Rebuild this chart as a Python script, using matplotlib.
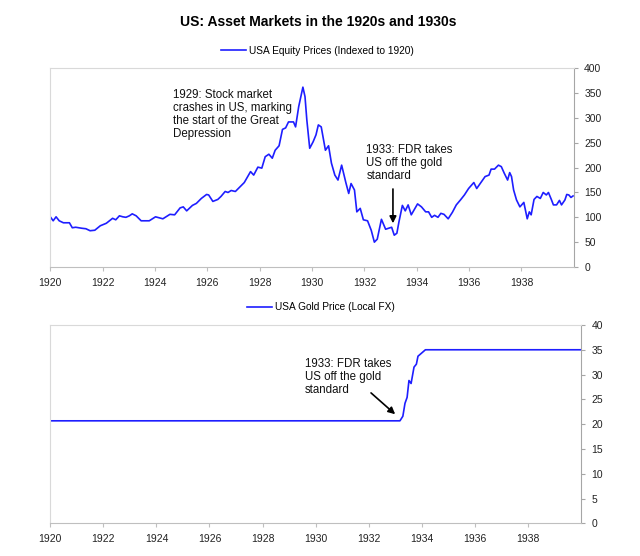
import numpy as np
import matplotlib
matplotlib.use("Agg")
import matplotlib.pyplot as plt

# equity prices, indexed to 1920 (decimal year, value)
eq_year = [1920.00, 1920.11, 1920.22, 1920.34, 1920.50, 1920.73, 1920.84, 1920.97,
           1921.20, 1921.36, 1921.52, 1921.70, 1921.91, 1922.14, 1922.38, 1922.50,
           1922.64, 1922.77, 1922.89, 1923.02, 1923.13, 1923.28, 1923.47, 1923.63,
           1923.78, 1924.02, 1924.30, 1924.57, 1924.75, 1924.96, 1925.08, 1925.21,
           1925.43, 1925.58, 1925.77, 1925.97, 1926.05, 1926.21, 1926.40, 1926.52,
           1926.68, 1926.79, 1926.91, 1927.07, 1927.22, 1927.41, 1927.54, 1927.65,
           1927.77, 1927.93, 1928.08, 1928.21, 1928.35, 1928.48, 1928.59, 1928.74,
           1928.87, 1928.99, 1929.10, 1929.29, 1929.37, 1929.49, 1929.65, 1929.73,
           1929.80, 1929.91, 1930.04, 1930.15, 1930.24, 1930.35, 1930.51, 1930.63,
           1930.74, 1930.87, 1930.99, 1931.13, 1931.29, 1931.40, 1931.49, 1931.62,
           1931.71, 1931.84, 1931.96, 1932.12, 1932.26, 1932.38, 1932.49, 1932.65,
           1932.81, 1932.93, 1933.04, 1933.14, 1933.24, 1933.32, 1933.45, 1933.56,
           1933.67, 1933.79, 1933.90, 1934.03, 1934.18, 1934.34, 1934.45, 1934.57,
           1934.68, 1934.81, 1934.92, 1935.04, 1935.20, 1935.36, 1935.51, 1935.67,
           1935.82, 1935.98, 1936.18, 1936.29, 1936.45, 1936.61, 1936.76, 1936.84,
           1936.97, 1937.12, 1937.23, 1937.34, 1937.47, 1937.55, 1937.62, 1937.70,
           1937.81, 1937.94, 1938.09, 1938.22, 1938.30, 1938.37, 1938.48, 1938.59,
           1938.72, 1938.83, 1938.95, 1939.03, 1939.14, 1939.22, 1939.34, 1939.45,
           1939.53, 1939.66, 1939.73, 1939.81, 1939.89, 1939.97]
eq_val = [101, 93, 101, 93, 89, 89, 79, 80,
          78, 77, 73, 74, 83, 88, 98, 95,
          103, 101, 100, 103, 107, 103, 93, 93,
          93, 101, 97, 106, 105, 119, 121, 113,
          124, 128, 138, 146, 145, 132, 136, 142,
          152, 150, 154, 152, 160, 170, 182, 192,
          185, 201, 199, 222, 227, 219, 235, 244,
          277, 280, 292, 292, 282, 323, 362, 343,
          296, 239, 252, 266, 286, 282, 235, 244,
          209, 185, 175, 205, 170, 148, 168, 155,
          111, 118, 95, 93, 74, 50, 56, 96,
          76, 78, 80, 64, 68, 91, 124, 113,
          125, 105, 115, 127, 121, 111, 111, 100,
          104, 100, 108, 106, 97, 110, 125, 135,
          145, 158, 170, 158, 170, 182, 185, 197,
          197, 205, 202, 189, 175, 190, 182, 155,
          135, 121, 130, 97, 111, 105, 136, 142,
          138, 150, 145, 150, 136, 125, 125, 134,
          125, 135, 146, 145, 140, 143]

# gold price in USD
gold_year = [1920.00, 1933.18, 1933.29, 1933.37, 1933.45, 1933.52, 1933.60, 1933.71,
             1933.80, 1933.86, 1933.99, 1934.14, 1940.00]
gold_val = [20.67, 20.67, 21.6, 24.2, 25.4, 28.8, 28.2, 31.5,
            32.1, 33.7, 34.3, 35.0, 35.0]

xticks = list(range(1920, 1940, 2))

blue = "#1e1eff"
narrow = ["Liberation Sans Narrow", "Liberation Sans", "DejaVu Sans"]
plt.rcParams["font.family"] = ["Liberation Sans", "DejaVu Sans"]


def style_axis(ax, ymax, ystep):
    ax.set_xlim(1920, 1940)
    ax.set_ylim(0, ymax)
    ax.set_xticks(xticks)
    ax.set_yticks(np.arange(0, ymax + 1, ystep))
    ax.yaxis.tick_right()
    ax.spines["top"].set_color("#d9d9d9")
    ax.spines["left"].set_color("#d9d9d9")
    ax.spines["bottom"].set_color("#bfbfbf")
    ax.spines["right"].set_color("#a6a6a6")
    for s in ax.spines.values():
        s.set_linewidth(0.8)
    ax.tick_params(axis="x", length=3, width=0.8, color="#bfbfbf", pad=5,
                   labelsize=7.5, labelcolor="#222222")
    ax.tick_params(axis="y", length=3, width=0.8, color="#a6a6a6", pad=4.5,
                   labelsize=7.5, labelcolor="#222222")


def arrow(ax, tail, head):
    ax.annotate("", xy=head, xytext=tail,
                arrowprops=dict(arrowstyle="-|>", color="black", lw=1.2, mutation_scale=10,
                                shrinkA=0, shrinkB=0))


fig = plt.figure(figsize=(6.4, 5.56), dpi=100)
ax1 = fig.add_axes([0.0786, 0.5198, 0.818, 0.3574])
ax2 = fig.add_axes([0.0786, 0.0588, 0.829, 0.3567])

fig.text(0.497, 0.96, "US: Asset Markets in the 1920s and 1930s", ha="center", va="center",
         fontsize=10, fontweight="bold", family=narrow)

# top panel: equities
ax1.plot(eq_year, eq_val, color=blue, lw=1.2, label="USA Equity Prices (Indexed to 1920)")
style_axis(ax1, 400, 50)
ax1.legend(loc="center", bbox_to_anchor=(0.51, 1.088), frameon=False,
           handlelength=2.4, handletextpad=0.3, prop={"family": narrow, "size": 7.3})

ax1.text(1924.68, 358, "1929: Stock market\ncrashes in US, marking\nthe start of the Great\nDepression",
         ha="left", va="top", fontsize=8.3, family=narrow, linespacing=1.1, color="#111111")
ax1.text(1932.07, 247, "1933: FDR takes\nUS off the gold\nstandard",
         ha="left", va="top", fontsize=8.3, family=narrow, linespacing=1.1, color="#111111")
arrow(ax1, (1933.09, 157), (1933.09, 88))

# bottom panel: gold
ax2.plot(gold_year, gold_val, color=blue, lw=1.2, label="USA Gold Price (Local FX)")
style_axis(ax2, 40, 5)
ax2.legend(loc="center", bbox_to_anchor=(0.51, 1.089), frameon=False,
           handlelength=2.4, handletextpad=0.3, prop={"family": narrow, "size": 7.3})

ax2.text(1929.6, 33.3, "1933: FDR takes\nUS off the gold\nstandard",
         ha="left", va="top", fontsize=8.3, family=narrow, linespacing=1.1, color="#111111")
arrow(ax2, (1932.09, 26.3), (1933.0, 22.0))

fig.savefig("out.png", dpi=100)
